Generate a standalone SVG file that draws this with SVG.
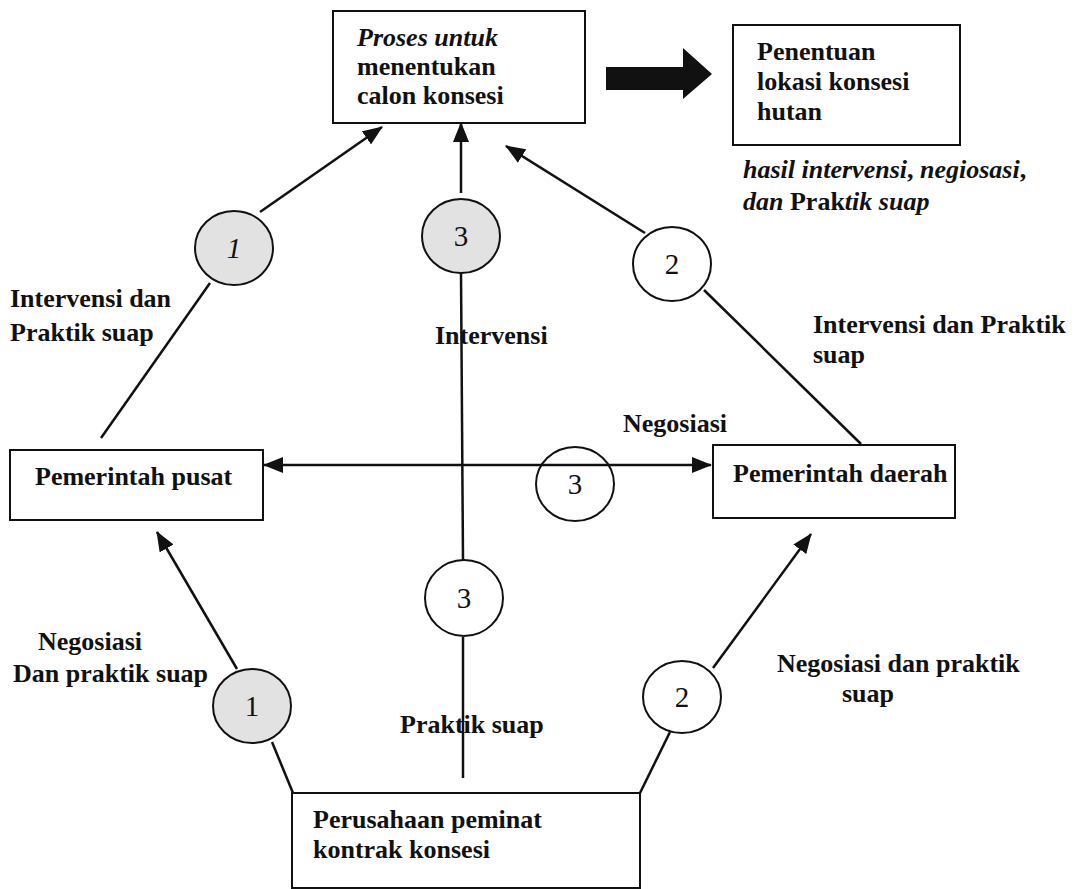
<svg xmlns="http://www.w3.org/2000/svg" width="1079" height="889" viewBox="0 0 1079 889">
<style>
.box{fill:#fff;stroke:#111;stroke-width:2}
.t{font-family:"Liberation Serif",serif;font-weight:bold;font-size:26px;fill:#111}
.n{font-family:"Liberation Serif",serif;font-size:29px;fill:#111;text-anchor:middle}
.ln{stroke:#111;stroke-width:2.5;fill:none}
.cg{fill:#e2e2e2;stroke:#111;stroke-width:2}
.cw{fill:none;stroke:#111;stroke-width:2}
</style>
<defs>
<marker id="ah" viewBox="0 0 20 16" refX="19" refY="8" markerWidth="20" markerHeight="16" markerUnits="userSpaceOnUse" orient="auto-start-reverse">
<path d="M0,0 L20,8 L0,16 Z" fill="#111"/>
</marker>
</defs>
<rect width="1079" height="889" fill="#fff"/>
<g id="connectors">
<line class="ln" x1="260" y1="212" x2="382" y2="127" marker-end="url(#ah)"/>
<line class="ln" x1="210" y1="283" x2="101" y2="438"/>
<line class="ln" x1="461" y1="193" x2="461" y2="123" marker-end="url(#ah)"/>
<line class="ln" x1="461" y1="273" x2="463" y2="560"/>
<line class="ln" x1="463" y1="637" x2="463" y2="778"/>
<line class="ln" x1="645" y1="233" x2="506" y2="146" marker-end="url(#ah)"/>
<line class="ln" x1="704" y1="290" x2="861" y2="444"/>
<line class="ln" x1="264" y1="465" x2="711" y2="465" marker-start="url(#ah)" marker-end="url(#ah)"/>
<line class="ln" x1="237" y1="669" x2="157" y2="532" marker-end="url(#ah)"/>
<line class="ln" x1="272" y1="742" x2="293" y2="793"/>
<line class="ln" x1="713" y1="668" x2="811" y2="534" marker-end="url(#ah)"/>
<line class="ln" x1="670" y1="732" x2="640" y2="793"/>
<path d="M606,67 L683,67 L683,48 L712,74 L683,99 L683,90 L606,90 Z" fill="#111"/>
</g>
<g id="node-proses">
<rect class="box" x="333" y="11" width="252" height="112"/>
<text class="t" x="357" y="46"><tspan font-style="italic">Proses untuk</tspan></text>
<text class="t" x="357" y="75">menentukan</text>
<text class="t" x="357" y="104">calon konsesi</text>
</g>
<g id="node-penentuan">
<rect class="box" x="733" y="25" width="227" height="120"/>
<text class="t" x="757" y="60">Penentuan</text>
<text class="t" x="757" y="90">lokasi konsesi</text>
<text class="t" x="757" y="120">hutan</text>
</g>
<g id="node-pusat">
<rect class="box" x="10" y="450" width="253" height="70"/>
<text class="t" x="35" y="485">Pemerintah pusat</text>
</g>
<g id="node-daerah">
<rect class="box" x="713" y="445" width="242" height="73"/>
<text class="t" x="733" y="482">Pemerintah daerah</text>
</g>
<g id="node-perusahaan">
<rect class="box" x="292" y="793" width="348" height="95"/>
<text class="t" x="313" y="828">Perusahaan peminat</text>
<text class="t" x="313" y="858">kontrak konsesi</text>
</g>
<g id="circle-1-top">
<ellipse class="cg" cx="234" cy="248" rx="39" ry="37"/>
<text class="n" x="234" y="258" font-style="italic">1</text>
</g>
<g id="circle-3-top">
<ellipse class="cg" cx="461" cy="236" rx="39" ry="37"/>
<text class="n" x="461" y="246">3</text>
</g>
<g id="circle-2-top">
<ellipse class="cw" cx="672" cy="264" rx="39" ry="37"/>
<text class="n" x="672" y="274">2</text>
</g>
<g id="circle-3-mid">
<ellipse class="cw" cx="575" cy="484" rx="39" ry="37"/>
<text class="n" x="575" y="494">3</text>
</g>
<g id="circle-3-low">
<ellipse class="cw" cx="464" cy="598" rx="39" ry="38"/>
<text class="n" x="464" y="608">3</text>
</g>
<g id="circle-1-low">
<ellipse class="cg" cx="252" cy="706" rx="39" ry="37"/>
<text class="n" x="252" y="716">1</text>
</g>
<g id="circle-2-low">
<ellipse class="cw" cx="682" cy="697" rx="39" ry="36"/>
<text class="n" x="682" y="707">2</text>
</g>
<g id="labels">
<text class="t" x="743" y="178"><tspan font-style="italic">hasil intervensi</tspan>, <tspan font-style="italic">negiosasi</tspan>,</text>
<text class="t" x="743" y="210"><tspan font-style="italic">dan</tspan> Prak<tspan font-style="italic">tik suap</tspan></text>
<text class="t" x="10" y="307">Intervensi dan</text>
<text class="t" x="10" y="341">Praktik suap</text>
<text class="t" x="435" y="344">Intervensi</text>
<text class="t" x="813" y="333">Intervensi dan Praktik</text>
<text class="t" x="813" y="363">suap</text>
<text class="t" x="623" y="432">Negosiasi</text>
<text class="t" x="38" y="650">Negosiasi</text>
<text class="t" x="13" y="682">Dan praktik suap</text>
<text class="t" x="400" y="733">Praktik suap</text>
<text class="t" x="777" y="672">Negosiasi dan praktik</text>
<text class="t" x="842" y="702">suap</text>
</g>
</svg>
